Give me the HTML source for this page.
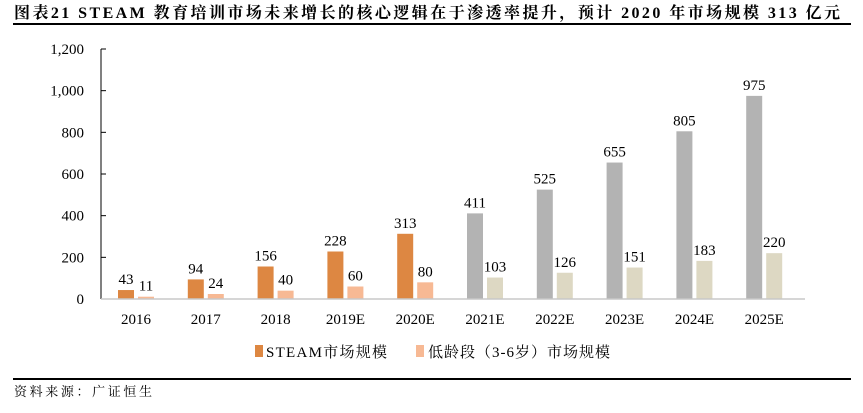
<!DOCTYPE html>
<html><head><meta charset="utf-8"><style>
body{margin:0;background:#fff;width:863px;height:408px;overflow:hidden;font-family:"Liberation Serif","Noto Serif CJK SC",serif}
</style></head><body>
<svg width="863" height="408" xmlns="http://www.w3.org/2000/svg">
<text x="14" y="18" font-size="16" font-weight="bold" fill="#000" textLength="826" lengthAdjust="spacing" font-family="Liberation Serif,Noto Serif CJK SC,serif">图表21 STEAM 教育培训市场未来增长的核心逻辑在于渗透率提升，预计 2020 年市场规模 313 亿元</text>
<rect x="13" y="23" width="838" height="2" fill="#000"/>
<g id="plot"></g>
<rect x="13" y="378" width="838" height="2" fill="#000"/>
<text x="14" y="396" font-size="13" fill="#000" textLength="138" lengthAdjust="spacing" font-family="Liberation Serif,Noto Serif CJK SC,serif">资料来源：广证恒生</text>
</svg>
<script>
const categories=["2016","2017","2018","2019E","2020E","2021E","2022E","2023E","2024E","2025E"];
const steamValues=[43,94,156,228,313,411,525,655,805,975];
const youngValues=[11,24,40,60,80,103,126,151,183,220];
const yTicks=[0,200,400,600,800,1000,1200];
const yTickLabels=["0","200","400","600","800","1,000","1,200"];
const estimateStart=5;
const ns="http://www.w3.org/2000/svg";
const g=document.getElementById('plot');
const x0=101,x1=805,yBase=299,yTop=49,yMax=1200;
const y=v=>yBase-(v/yMax)*(yBase-yTop);
const step=69.8,c0=136;
const cx=i=>c0+i*step;
function mk(t,a){const e=document.createElementNS(ns,t);for(const k in a)e.setAttribute(k,a[k]);g.appendChild(e);return e;}
yTicks.forEach((v,i)=>{
 const t=mk('text',{x:x0-17,y:y(v)+5,'text-anchor':'end','font-size':15,fill:'#000'});t.textContent=yTickLabels[i];
 
 
 const tk=mk('line',{x1:x0,x2:x0+5,y1:y(v),y2:y(v),stroke:'#000','stroke-width':1});
 
 
});
const ya=mk('line',{x1:x0,x2:x0,y1:yTop,y2:yBase,stroke:'#000','stroke-width':1});


categories.forEach((c,i)=>{
 const est=i>=estimateStart;
 const b1=mk('rect',{x:cx(i)-18,y:y(steamValues[i]),width:16,height:yBase-y(steamValues[i]),fill:est?'#B3B3B3':'#DD8742'});
 
 
 const b2=mk('rect',{x:cx(i)+2,y:y(youngValues[i]),width:16,height:yBase-y(youngValues[i]),fill:est?'#DDD8C3':'#F7B994'});
 
 
 const l1=mk('text',{x:cx(i)-10,y:y(steamValues[i])-6,'text-anchor':'middle','font-size':15,fill:'#000'});l1.textContent=steamValues[i];
 
 
 const l2=mk('text',{x:cx(i)+10,y:y(youngValues[i])-6,'text-anchor':'middle','font-size':15,fill:'#000'});l2.textContent=youngValues[i];
 
 
 const xl=mk('text',{x:cx(i),y:324,'text-anchor':'middle','font-size':15,fill:'#000'});xl.textContent=c;
 
 
});
const xa=mk('line',{x1:x0,x2:x1,y1:yBase,y2:yBase,stroke:'#C8C8C8','stroke-width':1.5});


const lg1=mk('rect',{x:255,y:345,width:8,height:12,fill:'#DD8742'});


const lt1=mk('text',{x:266,y:357,'font-size':15,fill:'#000',textLength:121,lengthAdjust:'spacing'});lt1.textContent='STEAM市场规模';


const lg2=mk('rect',{x:416,y:345,width:8,height:12,fill:'#F7B994'});


const lt2=mk('text',{x:428,y:357,'font-size':15,fill:'#000',textLength:182,lengthAdjust:'spacing'});lt2.textContent='低龄段（3-6岁）市场规模';


</script>
</body></html>
